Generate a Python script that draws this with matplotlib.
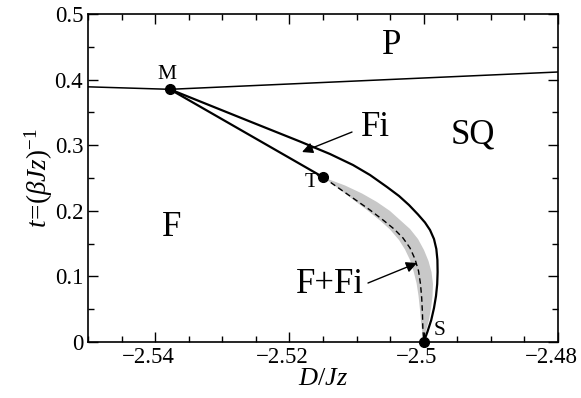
import matplotlib
matplotlib.use("Agg")
import matplotlib.pyplot as plt
import matplotlib.transforms as mtransforms
from matplotlib.ticker import MultipleLocator, FuncFormatter

plt.rcParams['font.family'] = ['Liberation Serif', 'DejaVu Serif']
plt.rcParams['mathtext.fontset'] = 'custom'
plt.rcParams['mathtext.rm'] = 'Liberation Serif'
plt.rcParams['mathtext.it'] = 'Liberation Serif:italic'
plt.rcParams['axes.unicode_minus'] = True

# special points
M = (-2.5378, 0.3852)
T = (-2.51495, 0.251)
S = (-2.5000, 0.0)

# P boundary
p_D = [-2.55, M[0], -2.48]
p_t = [0.389, M[1], 0.4116]

# Fi / SQ boundary, M -> S
sq_D = [M[0], -2.52587, -2.51842, -2.51396, -2.51053, -2.50800, -2.50547,
        -2.50368, -2.50219, -2.50085, -2.49981, -2.49906, -2.49847, -2.49812,
        -2.49796, -2.49793, -2.49799, -2.49817, -2.49847, -2.49888, -2.49943, S[0]]
sq_t = [M[1], 0.3361, 0.3056, 0.2866, 0.2698, 0.2546, 0.2363,
        0.2226, 0.2088, 0.1944, 0.1822, 0.1707, 0.1570, 0.1418,
        0.1250, 0.1067, 0.0884, 0.0701, 0.0518, 0.0335, 0.0160, S[1]]

# F / Fi line M -> T
mt_D = [M[0], T[0]]
mt_t = [M[1], T[1]]

# dashed line T -> S
dash_D = [T[0], -2.51247, -2.51023, -2.50800, -2.50606, -2.50442, -2.50308,
          -2.50204, -2.50130, -2.50077, -2.50048, -2.50030, -2.50019, -2.50013, S[0]]
dash_t = [T[1], 0.2332, 0.2172, 0.2012, 0.1860, 0.1723, 0.1585,
          0.1433, 0.1265, 0.1082, 0.0884, 0.0671, 0.0442, 0.0213, S[1]]

# grey band F+Fi
band_up_D = [T[0], -2.51172, -2.50919, -2.50696, -2.50502, -2.50353, -2.50204,
             -2.50085, -2.49996, -2.49929, -2.49884, -2.49862, -2.49869, -2.49891,
             -2.49921, -2.49966, S[0]]
band_up_t = [T[1], 0.2386, 0.2264, 0.2134, 0.1997, 0.1860, 0.1723,
             0.1570, 0.1402, 0.1235, 0.1067, 0.0884, 0.0701, 0.0518,
             0.0335, 0.0168, S[1]]
band_lo_D = [T[0], -2.51276, -2.51053, -2.50845, -2.50651, -2.50502, -2.50368,
             -2.50279, -2.50204, -2.50152, -2.50107, -2.50077, -2.50055, -2.50036, S[0]]
band_lo_t = [T[1], 0.2343, 0.2172, 0.2012, 0.1852, 0.1715, 0.1555,
             0.1410, 0.1250, 0.1082, 0.0899, 0.0701, 0.0488, 0.0259, S[1]]

fig = plt.figure(figsize=(5.81, 3.98), dpi=100)
ax = fig.add_axes([0.1515, 0.1407, 0.8089, 0.8241])

poly_D = band_up_D + band_lo_D[::-1]
poly_t = band_up_t + band_lo_t[::-1]
ax.fill(poly_D, poly_t, color='#c8c8c8', lw=0, zorder=1)

ax.plot(p_D, p_t, color='black', lw=1.1, zorder=2)
ax.plot(sq_D, sq_t, color='black', lw=1.6, zorder=2, solid_joinstyle='round')
ax.plot(mt_D, mt_t, color='black', lw=1.6, zorder=2)
ax.plot(dash_D, dash_t, color='black', lw=1.0, ls=(0, (4, 2.5)), zorder=3)

for pt in (M, T, S):
    ax.plot(pt[0], pt[1], 'o', color='black', ms=7, zorder=5, clip_on=False)

ax.text(-2.53823, 0.4085, 'M', fontsize=15.5, ha='center', va='center')
ax.text(-2.51679, 0.2439, 'T', fontsize=15.5, ha='center', va='center')
ax.text(-2.49757, 0.0168, 'S', fontsize=15.5, ha='center', va='center')

big = 25
ax.text(-2.50472, 0.4527, 'P', fontsize=big, ha='center', va='center')
ax.text(-2.50725, 0.3277, 'Fi', fontsize=big, ha='center', va='center')
ax.text(-2.49266, 0.3155, 'SQ', fontsize=big, ha='center', va='center')
ax.text(-2.53749, 0.1738, 'F', fontsize=big, ha='center', va='center')
ax.text(-2.51396, 0.0884, 'F+Fi', fontsize=big, ha='center', va='center')

arr = dict(arrowstyle='-|>', color='black', lw=1.0, mutation_scale=16,
           shrinkA=0, shrinkB=0)
ax.annotate('', xy=(-2.51813, 0.2896), xytext=(-2.51068, 0.3201), arrowprops=arr)
ax.annotate('', xy=(-2.50100, 0.1204), xytext=(-2.50830, 0.0899), arrowprops=arr)

ax.set_xlim(-2.55, -2.48)
ax.set_ylim(0, 0.5)
ax.xaxis.set_major_locator(MultipleLocator(0.02))
ax.xaxis.set_minor_locator(MultipleLocator(0.005))
ax.yaxis.set_major_locator(MultipleLocator(0.1))
ax.yaxis.set_minor_locator(MultipleLocator(0.05))
fmt = FuncFormatter(lambda v, pos: ('%g' % round(v, 4)).replace('-', '\u2212'))
ax.xaxis.set_major_formatter(fmt)
ax.yaxis.set_major_formatter(fmt)
ax.tick_params(which='both', direction='in', top=True, right=True, labelsize=16.5)
ax.tick_params(which='major', length=7, width=1)
ax.tick_params(which='minor', length=4, width=1)
for sp in ax.spines.values():
    sp.set_linewidth(1.2)

# minus sign hangs to the left of the tick
shift = mtransforms.ScaledTranslation(-0.07, 0, fig.dpi_scale_trans)
for lab in ax.get_xticklabels():
    lab.set_transform(lab.get_transform() + shift)

ax.set_xlabel(r'$D/Jz$', fontsize=19, labelpad=0)
ax.set_ylabel(r'$t\!=\!(\beta Jz)^{-1}$', fontsize=19.5, labelpad=0)

fig.savefig('out.png', dpi=100)
